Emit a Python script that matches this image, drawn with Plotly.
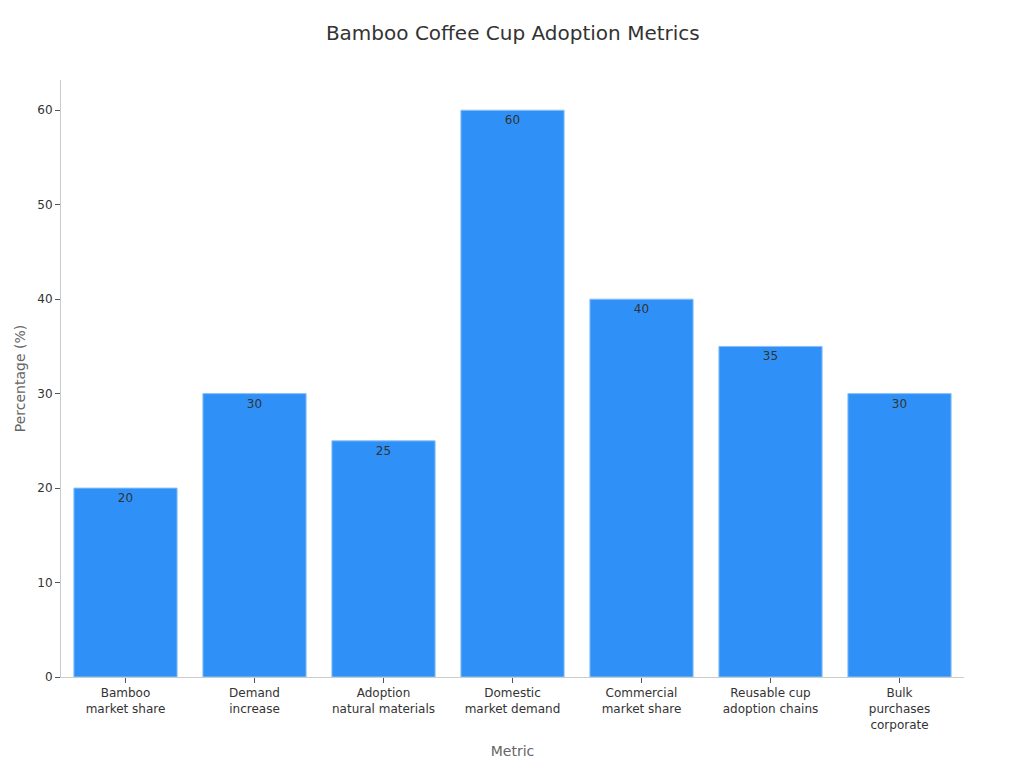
import plotly.graph_objects as go

categories = ["Bamboo<br>market share", "Demand<br>increase", "Adoption<br>natural materials",
              "Domestic<br>market demand", "Commercial<br>market share", "Reusable cup<br>adoption chains",
              "Bulk<br>purchases<br>corporate"]
values = [20, 30, 25, 60, 40, 35, 30]
y_ticks = [0, 10, 20, 30, 40, 50, 60]

fig = go.Figure(go.Bar(
    x=categories, y=values,
    text=[str(v) for v in values], textposition="inside", insidetextanchor="end",
    textfont=dict(color="#333333", size=12, family="DejaVu Sans"),
    marker=dict(color="#2f91f7", line=dict(color="#8cc0f5", width=1)),
))

fig.update_layout(
    width=1024, height=768,
    margin=dict(l=53, r=68, t=72, b=99),
    paper_bgcolor="white", plot_bgcolor="white",
    font=dict(family="DejaVu Sans", color="#333333", size=12),
    title=dict(text="Bamboo Coffee Cup Adoption Metrics", x=0.493, xanchor="center",
               y=0.9674, yanchor="middle",
               font=dict(size=20, color="#333333")),
    bargap=0.2,
    showlegend=False,
)
fig.update_xaxes(
    title=dict(text="Metric", font=dict(size=14, color="#666666")),
    showline=True, linecolor="#cccccc", ticks="outside", tickcolor="#555555", ticklen=5,
    showgrid=False, tickfont=dict(size=12, color="#333333"), automargin=False,
)
fig.update_yaxes(
    title=dict(text="Percentage (%)", font=dict(size=14, color="#666666"), standoff=8),
    range=[0, 63.2], tickvals=y_ticks,
    showline=True, linecolor="#cccccc", ticks="outside", tickcolor="#555555", ticklen=5,
    showgrid=False, zeroline=False, tickfont=dict(size=12, color="#333333"), automargin=False,
)

fig.write_html("out.html")
